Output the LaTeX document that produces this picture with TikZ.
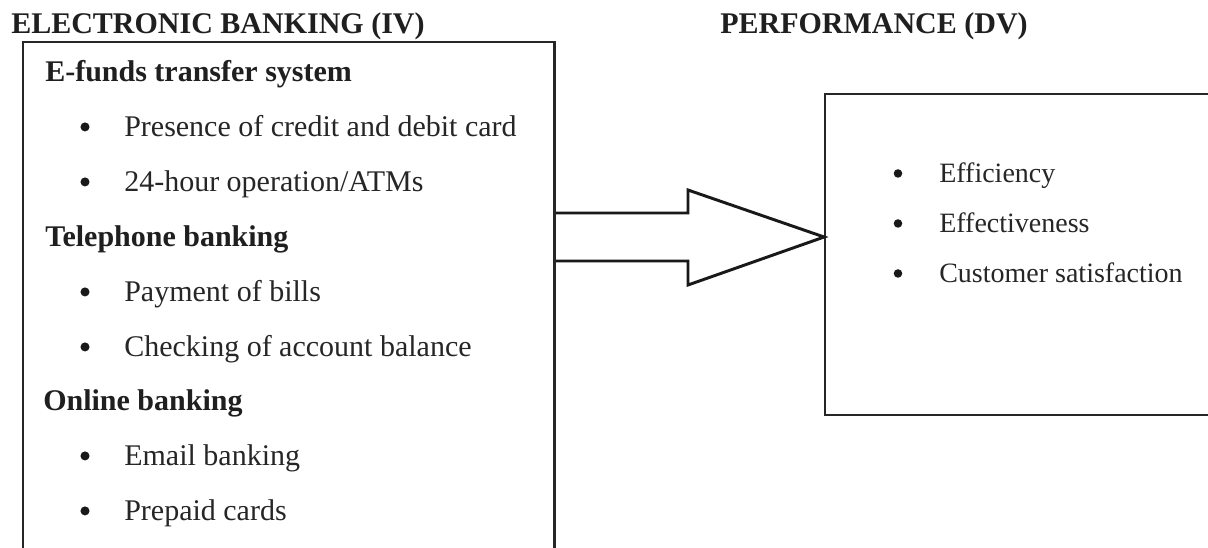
\documentclass[tikz,border=0pt]{standalone}
\usepackage{fontspec}
\setmainfont{Liberation Serif}
\usetikzlibrary{fit}

\tikzset{
  px/.style={x=0.75pt,y=-0.75pt},
  frame/.style={draw=black!85,line width=1.3pt,inner sep=0pt},
  bigarrow/.style={draw=black!90,line width=2.2pt,line join=miter,fill=white},
  title/.style={anchor=base west,inner sep=0pt,font=\fontsize{22.5}{27}\selectfont\bfseries,text=black!88},
  head/.style={anchor=base west,inner sep=0pt,font=\fontsize{22.5}{27}\selectfont\bfseries,text=black!88},
  item/.style={anchor=base west,inner sep=0pt,font=\fontsize{22.5}{27}\selectfont,text=black!85},
  dot/.style={circle,fill=black!90,inner sep=0pt,minimum size=6.8pt,yshift=6.8pt},
  ritem/.style={anchor=base west,inner sep=0pt,font=\fontsize{21}{25}\selectfont,text=black!85},
  rdot/.style={circle,fill=black!90,inner sep=0pt,minimum size=6.4pt,yshift=6.4pt},
}

\begin{document}
\begin{tikzpicture}[px]
\useasboundingbox (0,0) rectangle (1208,547);
\clip (0,0) rectangle (1208,547);
\fill[white] (0,0) rectangle (1208,547);

% column titles
\node[title] (ivtitle) at (11,33) {ELECTRONIC BANKING (IV)};
\node[title] (dvtitle) at (720,33) {PERFORMANCE (DV)};

% independent variable box
\coordinate (ivtl) at (23,42);
\coordinate (ivbr) at (554,550);
\node[frame,fit=(ivtl)(ivbr)] (iv) {};

\node[head] (h1) at (45,81) {E-funds transfer system};
\node[dot]  (b1) at (85,136) {};
\node[item] (i1) at (124,136) {Presence of credit and debit card};
\node[dot]  (b2) at (85,191) {};
\node[item] (i2) at (124,191) {24-hour operation/ATMs};
\node[head] (h2) at (45,246) {Telephone banking};
\node[dot]  (b3) at (85,301) {};
\node[item] (i3) at (124,301) {Payment of bills};
\node[dot]  (b4) at (85,356) {};
\node[item] (i4) at (124,356) {Checking of account balance};
\node[head] (h3) at (43,410) {Online banking};
\node[dot]  (b5) at (85,465) {};
\node[item] (i5) at (124,465) {Email banking};
\node[dot]  (b6) at (85,520) {};
\node[item] (i6) at (124,520) {Prepaid cards};

% dependent variable box
\coordinate (dvtl) at (825,94);
\coordinate (dvbr) at (1220,415);
\node[frame,fit=(dvtl)(dvbr)] (dv) {};

\node[rdot]  (r1d) at (898,182) {};
\node[ritem] (r1)  at (939,182) {Efficiency};
\node[rdot]  (r2d) at (898,232) {};
\node[ritem] (r2)  at (939,232) {Effectiveness};
\node[rdot]  (r3d) at (898,282) {};
\node[ritem] (r3)  at (939,282) {Customer satisfaction};

% block arrow from IV to DV
\draw[bigarrow]
  (iv.east |- 0,213) -- (688,213) -- (688,190) -- (dv.west |- 0,237)
  -- (688,285) -- (688,261) -- (iv.east |- 0,261);
\draw[frame] (iv.north east) -- (iv.south east);
\end{tikzpicture}
\end{document}
